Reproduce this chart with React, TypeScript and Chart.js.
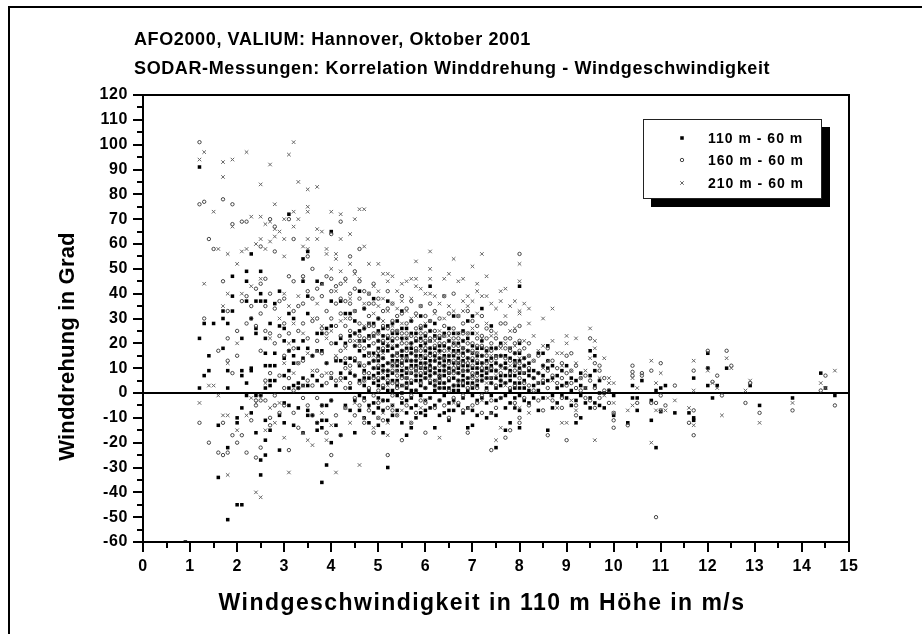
import React, { useEffect, useRef } from "react";
import { Chart, registerables, ChartDataset } from "chart.js";
import { drawPoint } from "chart.js/helpers";

Chart.register(...registerables);

const titleLines = [
  "AFO2000, VALIUM: Hannover, Oktober 2001",
  "SODAR-Messungen: Korrelation Winddrehung - Windgeschwindigkeit",
];
const xAxisTitle = "Windgeschwindigkeit in 110 m Höhe in m/s";
const yAxisTitle = "Winddrehung in Grad";
const seriesNames = ["110 m - 60 m", "160 m - 60 m", "210 m - 60 m"];

// Each row: wind speed, then the turning values read at that speed.
const rows110: number[][] = [
  [0.9,-60],[1.2,91,22,2],[1.3,28,7],[1.4,15,9],[1.5,28],[1.6,-13,-34],[1.7,33,30,18],
  [1.8,28,9,2,-22,-51],[1.9,47,39,33],[2,-10,-12,-45],[2.1,22,9,7,-6,-45],[2.2,49,45,37,4,-1],
  [2.3,56,30,10,9,-8],[2.4,37,26,24,-1,-16],[2.5,49,40,37,-1,-27,-33],[2.6,37,22,16,11,2,-11,-19,-25],
  [2.7,28,11,5,3,-15],[2.8,36,16,11,5],[2.9,41,27,-9,-23],[3,26,21,14,7,-4,-12],
  [3.1,72,32,17,9,2,-5],[3.2,30,21,15,12,3,-13],[3.3,18,4,2,-6],[3.4,54,45,21,14,6,3,-16],
  [3.5,57,39,32,18,3,-7,-9],[3.6,15,7,-9],[3.7,45,24,17,5,-12,-15],[3.8,44,24,17,3,-5,-11,-14,-36],
  [3.9,26,12,-5,-11,-29],[4,65,37,27,6,-3,-20],[4.1,13,3,-13,20],[4.2,37,22,8,-17,13],
  [4.3,32,20,6,-5,12],[4.4,32,23,2,-7,14,8],[4.5,29,7,-16,19,-3,13,24],[4.6,41,25,17,11,5,-7,21,-1],
  [4.7,34,21,15,9,3,-2,-10,26,6],[4.8,28,19,12,6,1,-12,23,16,-5],[4.9,38,23,16,10,4,-4,-8,28,13,7],
  [5,30,25,18,13,8,3,-2,-6,-13,21,15,10,5],[5.1,26,20,14,9,6,2,-7,-16,23,17,11,-3],[5.2,37,22,17,12,7,4,-3,-11,-30,27,19,9,1],
  [5.3,28,21,15,11,8,1,-5,-9,24,18,13,5],[5.4,24,19,13,9,5,-1,-7,29,16,11,3],[5.5,33,26,17,12,7,3,-4,-12,22,15,9,0],
  [5.6,22,18,15,10,6,2,-3,-8,-17,26,13,8,4],[5.7,29,20,16,11,8,4,-2,-6,-14,24,18,13,1],[5.8,24,17,13,9,5,1,-5,-10,21,15,11,7],
  [5.9,31,22,15,12,7,3,-1,-8,26,19,10,5],[6,27,20,14,10,6,2,-3,-7,23,17,12,8,-9],[6.1,43,25,21,16,11,9,4,-2,-6,18,13,7],
  [6.2,28,18,13,8,5,1,-5,-14,23,15,10,3],[6.3,22,17,12,9,6,2,-3,-9,19,14,7,4],[6.4,19,15,11,7,4,-1,-8,24,13,9,2],
  [6.5,26,18,13,10,5,2,-4,-11,21,15,8,-7],[6.6,31,20,15,9,6,3,-3,-7,24,17,12,1],[6.7,24,17,12,8,5,1,-5,20,14,10,3],
  [6.8,21,16,11,7,3,-2,-8,25,18,13,9,5],[6.9,29,22,14,9,6,1,-6,-14,17,11,4],[7,31,19,13,10,4,-1,-7,-13,24,16,7,2],
  [7.1,18,12,8,3,-3,-9,15,10,5],[7.2,34,21,15,9,5,-2,18,12,7],[7.3,17,10,6,2,-4,-10,13,8],[7.4,27,14,9,4,-1,-8,18,11,6],
  [7.5,18,12,6,2,-3,-22,-9,15,9],[7.6,20,11,7,3,-2,15,5],[7.7,15,10,4,-1,-6,-15,12,7],[7.8,18,9,5,1,-4,-12,14,7],
  [7.9,16,11,7,2,-2,-6,13,4],[8,43,20,13,8,4,-1,-7,-14,16,10,2],[8.1,14,8,2,-3,11,5],[8.2,12,7,1,-4,9],
  [8.3,9,3,-2,6],[8.4,16,8,1,-7,4],[8.5,16,11,4,-2,7],[8.6,19,10,5,-15,13],[8.7,11,6,-1,-6],
  [8.8,7,2,-4],[8.9,9,3,-1],[9,11,4,-2],[9.1,6,1,-5],[9.2,5,-3,-12],[9.3,8,3,-1,-10],
  [9.4,2,-4],[9.5,17,7,-2,-6],[9.6,15,9,3,-4],[9.7,5,0,-5],[9.8,0,-6],[9.9,1],
  [10,-1,-9],[10.3,-12],[10.4,3,-2],[10.5,-2,-7],[10.6,5],[10.8,-3,-11],[10.9,1,-22],
  [11,2,-7.5],[11.1,3],[11.3,-8],[11.6,-8],[11.7,6,-10,-11],[12,16,10,3],[12.1,-2],
  [12.2,3],[12.4,10],[12.9,3],[13.1,-5],[13.8,-2],[14.4,8],[14.5,2],[14.7,-1],
];

const rows160: number[][] = [
  [1.2,101,76,-12],[1.3,77,30],[1.4,62,-20],[1.5,58],[1.6,17,-24],[1.7,78,45,-25,-12],
  [1.8,-24,13,22,33],[1.9,76,68,-17,8],[2,15,25,-20],[2.1,69,37,-17],[2.2,69,39,28,-24],
  [2.3,35,30,-11],[2.4,42,27,-3,-26,-5],[2.5,59,44,32,17,-1,-22,-3],[2.6,46,35,25,5,-3],
  [2.7,70,40,24,8,-10,-13],[2.8,67,57,34,20,-1,-5],[2.9,37,23,7,-8],[3,38,28,15,2,-5],
  [3.1,70,47,24,17,6,-23],[3.2,62,45,33,18,1,-8],[3.3,35,25,12,2,-14],[3.4,47,36,28,13,-2],
  [3.5,55,41,22,5,-5],[3.6,50,38,29,15,3,-9],[3.7,42,30,21,9,-2,-12],[3.8,39,26,16,7,-5],
  [3.9,47,33,24,12,4,-16],[4,64,41,30,20,8,-3,-25,46],[4.1,36,27,14,5,-9,43],[4.2,69,44,32,17,6,-17,23,38],
  [4.3,37,27,19,10,2,-6,14,46],[4.4,55,40,30,21,11,4,25,36],[4.5,42,33,24,14,7,-2,-9,19,49],[4.6,58,38,28,19,12,4,-5,23,45],
  [4.7,34,26,18,11,5,-3,-12,22,8,41],[4.8,40,31,22,15,8,2,-7,27,12,36],[4.9,36,27,20,13,6,-1,-16,24,10,44],
  [5,38,30,24,17,11,6,1,-4,-10,21,14],[5.1,33,27,21,14,9,3,-3,-11,18,6],[5.2,41,34,26,19,12,5,-6,-25,23,9],
  [5.3,36,29,22,15,9,4,-1,-7,25,12],[5.4,31,25,19,12,7,2,-9,22,15,4],[5.5,39,32,24,17,11,6,-2,-19,20,13],
  [5.6,34,28,20,14,9,3,-5,24,17,6],[5.7,37,29,23,16,10,5,-1,-12,20,13],[5.8,32,26,18,13,7,1,-8,22,15,10],
  [5.9,35,27,21,14,8,4,-3,24,17,11],[6,31,24,18,12,6,2,-4,-16,21,15,9],[6.1,36,29,22,15,10,5,-2,25,18,7],
  [6.2,33,25,19,13,8,3,-6,22,16,10],[6.3,30,23,17,11,7,2,-3,20,14,5],[6.4,39,27,20,14,9,4,-5,23,17,11],
  [6.5,32,24,18,12,6,1,-10,21,15,9],[6.6,40,26,19,13,8,3,-2,22,16,10],[6.7,31,22,16,11,5,-4,19,13,8],
  [6.8,28,21,15,9,4,-1,-7,24,18,12],[6.9,33,24,17,12,6,2,-16,20,14,9],[7,29,20,14,8,3,-5,17,11,6],
  [7.1,27,19,13,7,2,-4,22,16,10],[7.2,31,23,15,10,5,-1,-8,19,12],[7.3,26,18,12,6,1,22,15,9],[7.4,25,17,10,4,-3,-23,20,13],
  [7.5,22,14,9,3,-6,18,12],[7.6,28,19,11,5,-2,15,8],[7.7,28,18,10,4,-18,22,14],[7.8,22,13,8,2,-15,17],
  [7.9,25,16,9,3,-4,20,12],[8,56,27,21,12,6,-12,-10,17,9],[8.1,18,11,4,-2,14],[8.2,20,10,3,-5,15],
  [8.3,13,6,1],[8.4,15,8,-3],[8.5,11,5,-7],[8.6,18,9,2,-17],[8.7,13,7,-3],[8.8,10,4],
  [8.9,12,6,-2,-6],[9,15,8,3,-19],[9.1,16,9,4],[9.2,11,2,-5,-9],[9.3,6,1],[9.4,7,-2],
  [9.5,22,5,-3],[9.6,12,2,-6],[9.7,11,9,-2],[9.8,6,1],[9.9,1,-4],[10,-8,-11,-14],
  [10.3,-13],[10.4,11,8.5,7],[10.5,-4],[10.6,8,7],[10.8,9,-4],[10.9,-4,-50],[11,12,-1,-7],
  [11.1,-5],[11.3,3],[11.6,-12],[11.7,9,-7,-17],[12,17,10],[12.1,4.5],[12.2,7],[12.3,-1],
  [12.4,17],[12.5,11],[12.8,-4],[12.9,4],[13.1,-8],[13.8,-7],[14.4,1],[14.5,7],[14.7,-5],
];

const rows210: number[][] = [
  [1.2,94,-4],[1.3,97,44],[1.4,3],[1.5,73,3],[1.6,58,-1],[1.7,93,87,35,-9],[1.8,56,-33,40,-9,12],
  [1.9,94,67],[2,52,20,-15],[2.1,57,40],[2.2,97,58,-9],[2.3,71,43,-2],[2.4,60,-40,-4],
  [2.5,84,71,62,-42,46],[2.6,68,58,-15,4],[2.7,92,61,69,-6,22],[2.8,76,63,66,-12],[2.9,65,-4,30],
  [3,70,62,55,40,-18,12],[3.1,96,35,-32,20],[3.2,101,73,67,28,8],[3.3,85,70,12,39],[3.4,59,46,3,-16,24],
  [3.5,82,75,73,62,58,-19,16],[3.6,-21,30,9],[3.7,83,62,66,36,17],[3.8,65,44,-8,27],[3.9,58,56,-19,22,8],
  [4,73,50,25,-13,6],[4.1,56,54,41,-32,15],[4.2,72,62,49,5,29],[4.3,45,30,-6,18],[4.4,64,52,38,-12,9],
  [4.5,70,48,33,-4,21],[4.6,74,46,21,-29,12],[4.7,74,59,36,-10,27,5],[4.8,52,40,28,-6,16],[4.9,43,32,15,-14,23],
  [5,52,41,35,24,-3,-10,16],[5.1,48,38,29,16,-8,8],[5.2,48,45,33,-12,-17,20,3],[5.3,47,36,27,11,-5,19],
  [5.4,41,34,25,9,-9,16],[5.5,44,37,28,14,-7,21,3],[5.6,45,33,22,6,14],[5.7,46,38,-12,30,19,8],[5.8,53,46,43,31,17,9],
  [5.9,42,35,26,10,-6,18],[6,40,28,19,-3,11],[6.1,57,50,46,40,29,12,21],[6.2,39,32,21,5,14],[6.3,36,25,-18,16,7],
  [6.4,46,39,30,14,23],[6.5,48,35,23,8,17],[6.6,54,33,20,-4,11],[6.7,45,31,12,24,4],[6.8,46,37,33,18,9],
  [6.9,39,35,24,-6,13],[7,51,37,26,7,16],[7.1,44,41,32,16,24,5],[7.2,56,39,22,-3,11],[7.3,47,39,28,4,16],
  [7.4,36,23,15,-8,6],[7.5,34,24,-19,7,15],[7.6,41,37,-14,18,10],[7.7,42,31,20,3],[7.8,35,25,11,18],
  [7.9,37,26,12,-5,19],[8,52,45,33,32,-6,14],[8.1,36,21,8],[8.2,34,28,15,-8],[8.3,23,13],[8.4,17,4],
  [8.5,30,19,10],[8.6,13,-2],[8.7,34,21,5],[8.8,16,-6],[8.9,16,11,-12],[9,23,20,-12],[9.1,9,-3],
  [9.2,22,12,-7],[9.3,6],[9.4,9,2],[9.5,26,14],[9.6,21,18,-19],[9.7,6],[9.8,14,-1],[9.9,6,4],
  [10,4,-4,-8],[10.3,-7],[10.4,6,-5],[10.5,2],[10.8,13,-20],[10.9,4,-7],[11,8,-7],[11.1,-7],
  [11.3,-3],[11.6,-6],[11.7,13,1,-13],[12,9],[12.1,4],[12.2,2],[12.3,-9],[12.4,14],[12.5,10],
  [12.8,1],[12.9,5],[13.1,-12],[13.8,-4],[14.4,4],[14.5,2],[14.7,9],
];

const xTicksMin = 0;
const xTicksMax = 15;
const yTicksMin = -60;
const yTicksMax = 120;

const toPoints = (rows: number[][]) =>
  rows.flatMap(([x, ...ys]) => ys.map((y) => ({ x, y })));

const FONT = '"Liberation Sans", Arial, sans-serif';

const framePlugin = {
  id: "frame",
  beforeDraw(chart: any) {
    const { ctx, scales } = chart;
    (ctx as any).letterSpacing = "0.6px";
    // per-axis title tracking and placement
    const wrap = (scale: any, spacing: string, dx: number, dy: number) => {
      if (scale.__wrapped) return;
      scale.__wrapped = true;
      const orig = scale.drawTitle;
      scale.drawTitle = function () {
        ctx.save();
        (ctx as any).letterSpacing = spacing;
        ctx.translate(dx, dy);
        orig.call(this);
        ctx.restore();
      };
    };
    wrap(scales.x, "1.45px", -14, 0);
    wrap(scales.y, "0.2px", 0, 28);
  },
  afterDraw(chart: any) {
    const { ctx, chartArea: a, scales } = chart;
    ctx.save();
    ctx.strokeStyle = "#000";
    ctx.fillStyle = "#000";

    // page frame: left and top only
    ctx.lineWidth = 2;
    ctx.beginPath();
    ctx.moveTo(9, 634);
    ctx.lineTo(9, 7);
    ctx.lineTo(922, 7);
    ctx.stroke();

    // plot box
    ctx.strokeRect(a.left, a.top, a.right - a.left, a.bottom - a.top);

    // ticks: long where a label sits, short between
    for (const t of scales.x.ticks) {
      const px = Math.round(scales.x.getPixelForValue(t.value));
      const len = Number.isInteger(t.value) ? 10 : 6;
      ctx.beginPath();
      ctx.moveTo(px, a.bottom);
      ctx.lineTo(px, a.bottom + len);
      ctx.stroke();
    }
    for (const t of scales.y.ticks) {
      const py = Math.round(scales.y.getPixelForValue(t.value));
      const len = t.value % 10 === 0 ? 10 : 6;
      ctx.beginPath();
      ctx.moveTo(a.left, py);
      ctx.lineTo(a.left - len, py);
      ctx.stroke();
    }

    // title
    ctx.textAlign = "left";
    ctx.textBaseline = "alphabetic";
    ctx.font = `bold 18px ${FONT}`;
    (ctx as any).letterSpacing = "0.62px";
    ctx.fillText(titleLines[0], 134, 45);
    ctx.fillText(titleLines[1], 134, 74);

    // legend box with drop shadow
    const box = { l: 643, t: 119, w: 179, h: 80 };
    ctx.fillStyle = "#000";
    ctx.fillRect(box.l + 8, box.t + 8, box.w, box.h);
    ctx.fillStyle = "#fff";
    ctx.fillRect(box.l, box.t, box.w, box.h);
    ctx.lineWidth = 1;
    ctx.strokeStyle = "#222";
    ctx.strokeRect(box.l + 0.5, box.t + 0.5, box.w - 1, box.h - 1);

    ctx.font = `bold 14px ${FONT}`;
    (ctx as any).letterSpacing = "1px";
    ctx.textBaseline = "middle";
    const rowY = [138, 160, 183];
    chart.data.datasets.forEach((ds: any, i: number) => {
      ctx.save();
      ctx.lineWidth = ds.pointBorderWidth;
      ctx.strokeStyle = ds.pointBorderColor;
      ctx.fillStyle = ds.pointBackgroundColor;
      drawPoint(ctx, { pointStyle: ds.pointStyle, radius: ds.pointRadius, borderWidth: ds.pointBorderWidth, rotation: 0 } as any, 682, rowY[i]);
      ctx.restore();
      ctx.fillStyle = "#000";
      ctx.fillText(seriesNames[i], 708, rowY[i] + 1);
    });
    ctx.restore();
    (ctx as any).letterSpacing = "0px";
  },
};

export default function App() {
  const ref = useRef<HTMLCanvasElement>(null);
  useEffect(() => {
    document.body.style.margin = "0";
    document.body.style.background = "#fff";
    const datasets: ChartDataset<"scatter">[] = [
      {
        label: seriesNames[0],
        data: toPoints(rows110),
        pointStyle: "rect",
        pointRadius: 2.5,
        pointBorderWidth: 0,
        pointBackgroundColor: "#000",
        pointBorderColor: "#000",
        order: 3,
      },
      {
        label: seriesNames[1],
        data: toPoints(rows160),
        pointStyle: "circle",
        pointRadius: 1.7,
        pointBorderWidth: 1,
        pointBackgroundColor: "rgba(0,0,0,0)",
        pointBorderColor: "#444",
        order: 2,
      },
      {
        label: seriesNames[2],
        data: toPoints(rows210),
        pointStyle: "crossRot",
        pointRadius: 2.5,
        pointBorderWidth: 1,
        pointBackgroundColor: "rgba(0,0,0,0)",
        pointBorderColor: "#666",
        order: 1,
      },
    ];
    const chart = new Chart(ref.current!, {
      type: "scatter",
      data: { datasets },
      plugins: [framePlugin],
      options: {
        responsive: false,
        animation: false,
        devicePixelRatio: 1,
        layout: { padding: { top: 95, right: 73, left: 0, bottom: 0 } },
        plugins: { legend: { display: false }, title: { display: false }, tooltip: { enabled: false } },
        scales: {
          x: {
            type: "linear",
            min: xTicksMin,
            max: xTicksMax,
            afterFit: (s: any) => { s.height = 92; },
            border: { display: false },
            grid: { display: false, drawTicks: false },
            ticks: {
              stepSize: 0.5,
              autoSkip: false,
              maxRotation: 0,
              padding: 15,
              color: "#000",
              font: { family: FONT, weight: "bold", size: 16 },
              callback: (v: any) => (Number.isInteger(v) ? String(v) : ""),
            },
            title: {
              display: true,
              text: xAxisTitle,
              color: "#000",
              font: { family: FONT, weight: "bold", size: 23 },
              padding: { top: 13, bottom: 17 },
            },
          },
          y: {
            type: "linear",
            min: yTicksMin,
            max: yTicksMax,
            afterFit: (s: any) => { s.width = 143; },
            border: { display: false },
            grid: {
              drawTicks: false,
              lineWidth: 2,
              color: (c: any) => (c.tick && c.tick.value === 0 ? "#000" : "rgba(0,0,0,0)"),
            },
            ticks: {
              stepSize: 5,
              autoSkip: false,
              padding: 15,
              color: "#000",
              font: { family: FONT, weight: "bold", size: 16 },
              callback: (v: any) => (v % 10 === 0 ? String(v) : ""),
            },
            title: {
              display: true,
              text: yAxisTitle,
              color: "#000",
              font: { family: FONT, weight: "bold", size: 22 },
              padding: { top: 55, bottom: 0 },
            },
          },
        },
      },
    });
    return () => chart.destroy();
  }, []);
  return <canvas ref={ref} width={922} height={634} style={{ display: "block" }} />;
}
